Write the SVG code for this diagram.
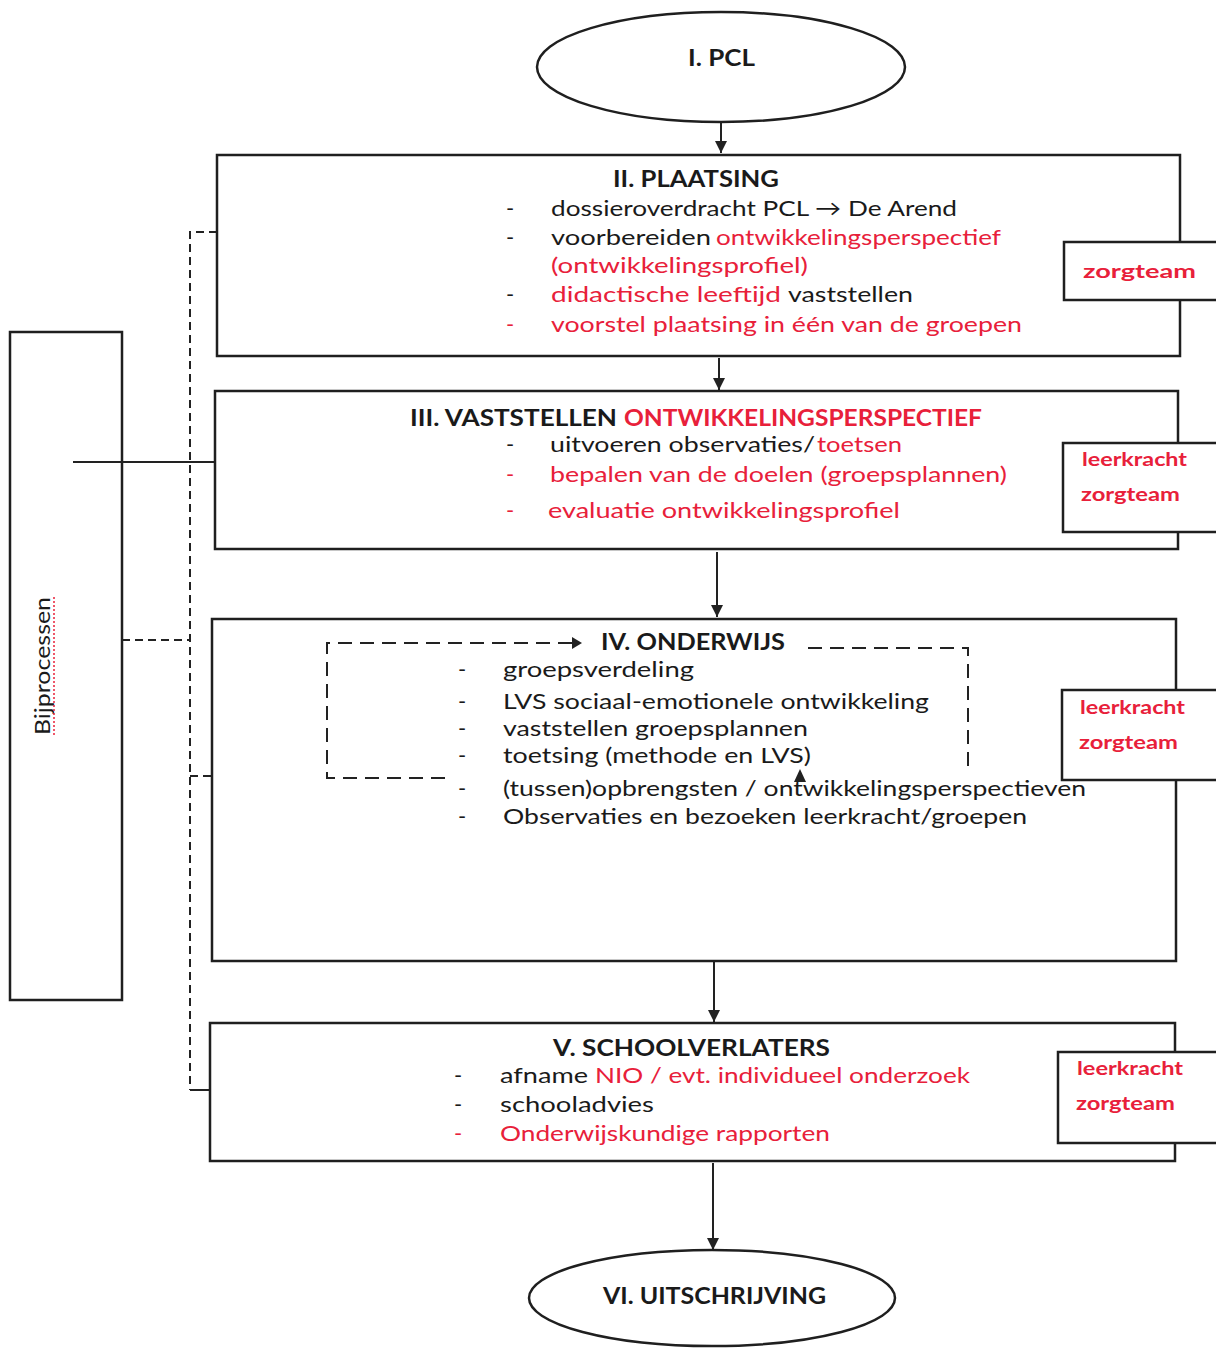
<svg xmlns="http://www.w3.org/2000/svg" width="1216" height="1349" viewBox="0 0 1216 1349">
<defs>
<style>
.box{fill:#fff;stroke:#1f1f1f;stroke-width:2.5}
.side{fill:#fff;stroke:#1f1f1f;stroke-width:2.5}
.ln{stroke:#222;stroke-width:2;fill:none}
.dash{stroke:#222;stroke-width:2;fill:none;stroke-dasharray:8 5}
.dash2{stroke:#222;stroke-width:2;fill:none;stroke-dasharray:14 8}
text{font-family:Lato,"Open Sans","Liberation Sans",sans-serif;fill:#1a1a1a}
.t{font-size:23px;font-weight:bold}
.b{font-size:22px}
.r{fill:#e8203a}
.s{font-size:19px;font-weight:bold;fill:#e8203a}
</style>
<marker id="ah" viewBox="0 0 10 10" refX="10" refY="5" markerWidth="6" markerHeight="6" orient="auto" markerUnits="strokeWidth">
<path d="M0,0 L10,5 L0,10 Z" fill="#222"/>
</marker>
</defs>

<g id="node-bijprocessen">
<rect class="box" x="10" y="332" width="112" height="668"/>
<text class="b" transform="translate(50,735) rotate(-90)" textLength="138" lengthAdjust="spacingAndGlyphs">Bijprocessen</text>
<line x1="54" y1="735" x2="54" y2="596" stroke="#e8203a" stroke-width="1.5" stroke-dasharray="2 2"/>
</g>

<g id="connectors">
<line class="ln" x1="721" y1="123" x2="721" y2="153" marker-end="url(#ah)"/>
<line class="ln" x1="719" y1="358" x2="719" y2="390" marker-end="url(#ah)"/>
<line class="ln" x1="717" y1="552" x2="717" y2="617" marker-end="url(#ah)"/>
<line class="ln" x1="714" y1="962" x2="714" y2="1022" marker-end="url(#ah)"/>
<line class="ln" x1="713" y1="1163" x2="713" y2="1250" marker-end="url(#ah)"/>
<path class="dash" d="M217,232 H190 V1090"/>
<line class="ln" x1="190" y1="1090" x2="210" y2="1090"/>
<line class="ln" x1="73" y1="462" x2="215" y2="462"/>
<line class="dash" x1="122" y1="640" x2="190" y2="640"/>
<line class="dash" x1="190" y1="776" x2="212" y2="776"/>
</g>

<g id="node-pcl">
<ellipse cx="721" cy="67" rx="184" ry="55" fill="#fff" stroke="#1f1f1f" stroke-width="2.5"/>
<text class="t" x="688" y="66" textLength="67" lengthAdjust="spacingAndGlyphs">I. PCL</text>
</g>

<g id="node-plaatsing">
<rect class="box" x="217" y="155" width="963" height="201"/>
<text class="t" x="613" y="187" textLength="166" lengthAdjust="spacingAndGlyphs">II. PLAATSING</text>
<text class="b" x="506" y="216">-</text>
<text class="b" x="551" y="216" textLength="406" lengthAdjust="spacingAndGlyphs">dossieroverdracht PCL → De Arend</text>
<text class="b" x="506" y="245">-</text>
<text class="b" x="551" y="245" textLength="160" lengthAdjust="spacingAndGlyphs">voorbereiden</text>
<text class="b r" x="716" y="245" textLength="285" lengthAdjust="spacingAndGlyphs">ontwikkelingsperspectief</text>
<text class="b r" x="551" y="273" textLength="257" lengthAdjust="spacingAndGlyphs">(ontwikkelingsprofiel)</text>
<text class="b" x="506" y="302">-</text>
<text class="b r" x="551" y="302" textLength="230" lengthAdjust="spacingAndGlyphs">didactische leeftijd</text>
<text class="b" x="788" y="302" textLength="125" lengthAdjust="spacingAndGlyphs">vaststellen</text>
<text class="b r" x="506" y="332">-</text>
<text class="b r" x="551" y="332" textLength="471" lengthAdjust="spacingAndGlyphs">voorstel plaatsing in één van de groepen</text>
</g>
<g id="node-zorgteam-2">
<rect class="side" x="1064" y="242" width="160" height="58"/>
<text class="s" x="1083" y="278" textLength="113" lengthAdjust="spacingAndGlyphs">zorgteam</text>
</g>

<g id="node-vaststellen">
<rect class="box" x="215" y="391" width="963" height="158"/>
<text class="t" x="410" y="426" textLength="207" lengthAdjust="spacingAndGlyphs">III. VASTSTELLEN</text>
<text class="t r" x="624" y="426" textLength="358" lengthAdjust="spacingAndGlyphs">ONTWIKKELINGSPERSPECTIEF</text>
<text class="b" x="506" y="452">-</text>
<text class="b" x="550" y="452" textLength="265" lengthAdjust="spacingAndGlyphs">uitvoeren observaties/</text>
<text class="b r" x="817" y="452" textLength="85" lengthAdjust="spacingAndGlyphs">toetsen</text>
<text class="b r" x="506" y="482">-</text>
<text class="b r" x="550" y="482" textLength="457" lengthAdjust="spacingAndGlyphs">bepalen van de doelen (groepsplannen)</text>
<text class="b r" x="506" y="518">-</text>
<text class="b r" x="548" y="518" textLength="352" lengthAdjust="spacingAndGlyphs">evaluatie ontwikkelingsprofiel</text>
</g>
<g id="node-team-3">
<rect class="side" x="1063" y="443" width="160" height="89"/>
<text class="s" x="1082" y="466" textLength="105" lengthAdjust="spacingAndGlyphs">leerkracht</text>
<text class="s" x="1081" y="501" textLength="99" lengthAdjust="spacingAndGlyphs">zorgteam</text>
</g>

<g id="node-onderwijs">
<rect class="box" x="212" y="619" width="964" height="342"/>
<path class="dash2" d="M445,778 H327 V643 H572"/>
<path d="M572,637 L582,643 L572,649 Z" fill="#222"/>
<path class="dash2" d="M808,648 H968 V772"/>
<path d="M794,782 L800,769 L806,782 Z" fill="#222"/>
<text class="t" x="601" y="650" textLength="184" lengthAdjust="spacingAndGlyphs">IV. ONDERWIJS</text>
<text class="b" x="458" y="677">-</text>
<text class="b" x="503" y="677" textLength="191" lengthAdjust="spacingAndGlyphs">groepsverdeling</text>
<text class="b" x="458" y="709">-</text>
<text class="b" x="503" y="709" textLength="426" lengthAdjust="spacingAndGlyphs">LVS sociaal-emotionele ontwikkeling</text>
<text class="b" x="458" y="736">-</text>
<text class="b" x="503" y="736" textLength="305" lengthAdjust="spacingAndGlyphs">vaststellen groepsplannen</text>
<text class="b" x="458" y="763">-</text>
<text class="b" x="503" y="763" textLength="308" lengthAdjust="spacingAndGlyphs">toetsing (methode en LVS)</text>
<text class="b" x="458" y="796">-</text>
<text class="b" x="503" y="796" textLength="583" lengthAdjust="spacingAndGlyphs">(tussen)opbrengsten / ontwikkelingsperspectieven</text>
<text class="b" x="458" y="824">-</text>
<text class="b" x="503" y="824" textLength="524" lengthAdjust="spacingAndGlyphs">Observaties en bezoeken leerkracht/groepen</text>
</g>
<g id="node-team-4">
<rect class="side" x="1062" y="690" width="160" height="90"/>
<text class="s" x="1080" y="714" textLength="105" lengthAdjust="spacingAndGlyphs">leerkracht</text>
<text class="s" x="1079" y="749" textLength="99" lengthAdjust="spacingAndGlyphs">zorgteam</text>
</g>

<g id="node-schoolverlaters">
<rect class="box" x="210" y="1023" width="965" height="138"/>
<text class="t" x="553" y="1056" textLength="277" lengthAdjust="spacingAndGlyphs">V. SCHOOLVERLATERS</text>
<text class="b" x="454" y="1083">-</text>
<text class="b" x="500" y="1083" textLength="88" lengthAdjust="spacingAndGlyphs">afname</text>
<text class="b r" x="595" y="1083" textLength="375" lengthAdjust="spacingAndGlyphs">NIO / evt. individueel onderzoek</text>
<text class="b" x="454" y="1112">-</text>
<text class="b" x="500" y="1112" textLength="154" lengthAdjust="spacingAndGlyphs">schooladvies</text>
<text class="b r" x="454" y="1141">-</text>
<text class="b r" x="500" y="1141" textLength="330" lengthAdjust="spacingAndGlyphs">Onderwijskundige rapporten</text>
</g>
<g id="node-team-5">
<rect class="side" x="1058" y="1052" width="165" height="91"/>
<text class="s" x="1077" y="1075" textLength="106" lengthAdjust="spacingAndGlyphs">leerkracht</text>
<text class="s" x="1076" y="1110" textLength="99" lengthAdjust="spacingAndGlyphs">zorgteam</text>
</g>

<g id="node-uitschrijving">
<ellipse cx="712" cy="1298" rx="183" ry="48" fill="#fff" stroke="#1f1f1f" stroke-width="2.5"/>
<text class="t" x="603" y="1304" textLength="223" lengthAdjust="spacingAndGlyphs">VI. UITSCHRIJVING</text>
</g>
</svg>
